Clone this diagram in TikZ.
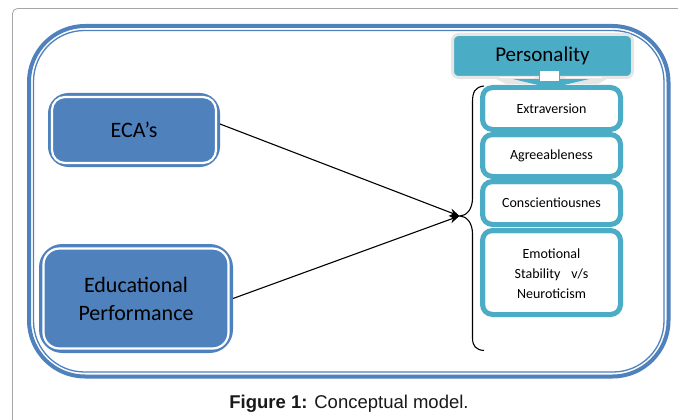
\documentclass[tikz,border=0pt]{standalone}
\usepackage{fontspec}
\setmainfont{Carlito}
\newfontfamily\capfont{Liberation Sans}
\usetikzlibrary{arrows.meta}
\definecolor{fblue}{HTML}{4F81BD}
\definecolor{fteal}{HTML}{4BACC6}
\definecolor{fgray}{HTML}{A6A6A6}
\definecolor{lgray}{HTML}{E6E6E6}
\tikzset{
  bluebox/.style={draw=fblue, fill=fblue, line width=5pt, rounded corners=18pt, inner sep=0pt, align=center, text=black, font=\fontsize{22}{28}\selectfont},
  itembox/.style={draw=fteal, fill=white, line width=5pt, rounded corners=10pt, inner sep=0pt, align=center, minimum width=138pt, font=\fontsize{14}{20}\selectfont},
  innerwhite/.style={draw=white, line width=2.2pt, rounded corners=13pt},
  innerteal/.style={draw=fteal, line width=1pt, rounded corners=7pt},
  conn/.style={line width=1.1pt, -{Stealth[length=10pt,width=8pt]}},
}
\begin{document}
\begin{tikzpicture}[x=1pt,y=-1pt]
\useasboundingbox (0,0) rectangle (678,420);
\clip (0,0) rectangle (678,420);
\fill[white] (0,0) rectangle (678,420);
% gray frame
\draw[fgray, line width=0.8pt, rounded corners=5pt] (700,8.5) -- (12.5,8.5) -- (12.5,440);
% outer blue double frame
\draw[fblue, line width=4pt, rounded corners=56pt] (29,26) rectangle (668.5,376.5);
\draw[fblue, line width=1.3pt, rounded corners=51pt] (33.5,30.5) rectangle (664,372);
% left boxes
\node[bluebox, minimum width=167pt, minimum height=69pt] (eca) at (134,130) {ECA’s};
\draw[innerwhite] ([shift={(4,4)}]eca.north west) rectangle ([shift={(-4,-4)}]eca.south east);
\node[bluebox, minimum width=189pt, minimum height=104pt, rounded corners=21pt] (edu) at (136,298.5) {};
\draw[innerwhite, rounded corners=16pt] ([shift={(4.5,4.5)}]edu.north west) rectangle ([shift={(-4.5,-4.5)}]edu.south east);
\node[align=center, font=\fontsize{22}{28}\selectfont] (edutext) at (edu.center) {Educational\\Performance};
% personality header
\fill[lgray] (490,76) -- (612,76) -- (598,84) -- (506,84) -- cycle;
\fill[fteal] (500,76) -- (602,76) -- (551,88) -- cycle;
\node[draw=lgray, fill=fteal, line width=3pt, rounded corners=6pt, minimum width=180pt, minimum height=43pt, inner sep=0pt, font=\fontsize{21}{25}\selectfont] (pers) at (542.5,56) {Personality};
\draw[white, line width=0.8pt] (500,77.5) -- (535,77.5);
\draw[white, line width=0.8pt] (565,77.5) -- (602,77.5);
\node[draw=fteal, fill=white, line width=1pt, minimum width=20pt, minimum height=11pt, inner sep=0pt] (pconn) at (549,76) {};
% items
\node[itembox, minimum height=42pt] (ext) at (551.5,108.5) {Extraversion};
\node[itembox, minimum height=42pt] (agr) at (551.5,155.5) {Agreeableness};
\node[itembox, minimum height=43pt] (con) at (551.5,203) {Conscientiousnes};
\node[itembox, minimum height=84pt] (emo) at (551.5,272.5) {};
\foreach \n in {ext,agr,con,emo}{
  \draw[innerteal] ([shift={(4.5,4.5)}]\n.north west) rectangle ([shift={(-4.5,-4.5)}]\n.south east);
}
\node[align=center, font=\fontsize{14}{20}\selectfont] (emotext) at (551.5,274) {Emotional\\Stability\hspace{11pt}v/s\\Neuroticism};
% brace
\coordinate (tip) at (459.5,216);
\draw[line width=1.1pt] (484,86) .. controls (475,87) and (472.5,92) .. (472.5,102) -- (472.5,198)
  .. controls (472.5,210) and (466,216) .. (tip)
  .. controls (466,216) and (472.5,222) .. (472.5,234) -- (472.5,338)
  .. controls (472.5,346) and (476,350) .. (484,350.5);
% arrows
\draw[conn] ([yshift=6pt]eca.east) -- (tip);
\draw[conn] (edu.east) -- (tip);
% caption
\node[font=\capfont\fontsize{18.5}{22}\selectfont, text=black!90] (cap) at (349,404) {\textbf{Figure 1:} Conceptual model.};
\end{tikzpicture}
\end{document}
